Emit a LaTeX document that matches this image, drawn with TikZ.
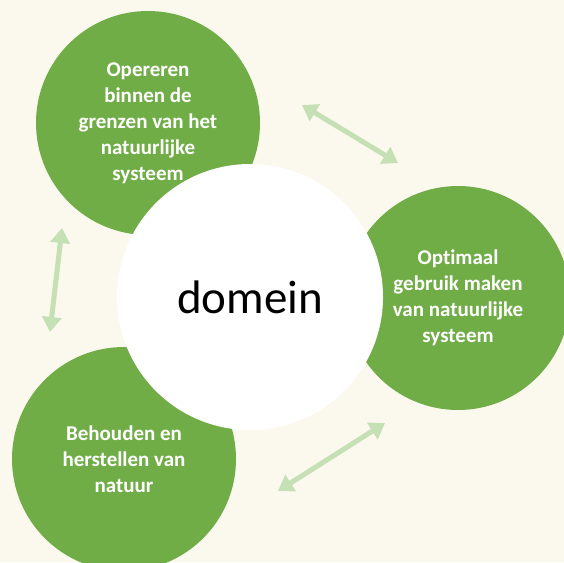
\documentclass[tikz,border=0pt]{standalone}
\usepackage{fontspec}
\setmainfont{Carlito}[Ligatures={NoCommon}]
\usepackage{xcolor}
\usepackage{tikz}
\usetikzlibrary{arrows.meta}
\definecolor{paper}{HTML}{FBF8EE}
\definecolor{leaf}{HTML}{70AD47}
\definecolor{pale}{HTML}{C5E0B4}
\tikzset{
  ring/.style={circle, fill=leaf, minimum size=224pt, inner sep=0pt, text=white,
    align=center, font=\bfseries\fontsize{21}{26}\selectfont},
  core/.style={circle, fill=white, minimum size=266pt, inner sep=0pt, text=black,
    font=\fontsize{47}{50}\selectfont},
  link/.style={draw=pale, line width=5pt,
    {Triangle[length=15pt,width=19pt]}-{Triangle[length=15pt,width=19pt]}},
}

\begin{document}
\begin{tikzpicture}[x=1pt,y=-1pt]
  \useasboundingbox (0,0) rectangle (564,562);
  \clip (0,0) rectangle (564,562);
  \fill[paper] (0,0) rectangle (564,562);
  % three green circles
  \node[ring] (grens) at (148,123) {Opereren\\binnen de\\grenzen van het\\natuurlijke\\systeem};
  \node[ring] (gebruik) at (458,298) {Optimaal\\gebruik maken\\van natuurlijke\\systeem};
  \node[ring] (natuur) at (124,459) {Behouden en\\herstellen van\\natuur};
  % white centre
  \node[core] (domein) at (250,297) {domein};
  % arrows between the circles
  \coordinate (a1) at (302,105);
  \coordinate (b1) at (398,163);
  \coordinate (a2) at (62,228);
  \coordinate (b2) at (50,332);
  \coordinate (a3) at (385,423);
  \coordinate (b3) at (278,491);
  \draw[link] (a1) -- (b1);
  \draw[link] (a2) -- (b2);
  \draw[link] (a3) -- (b3);
\end{tikzpicture}
\end{document}
